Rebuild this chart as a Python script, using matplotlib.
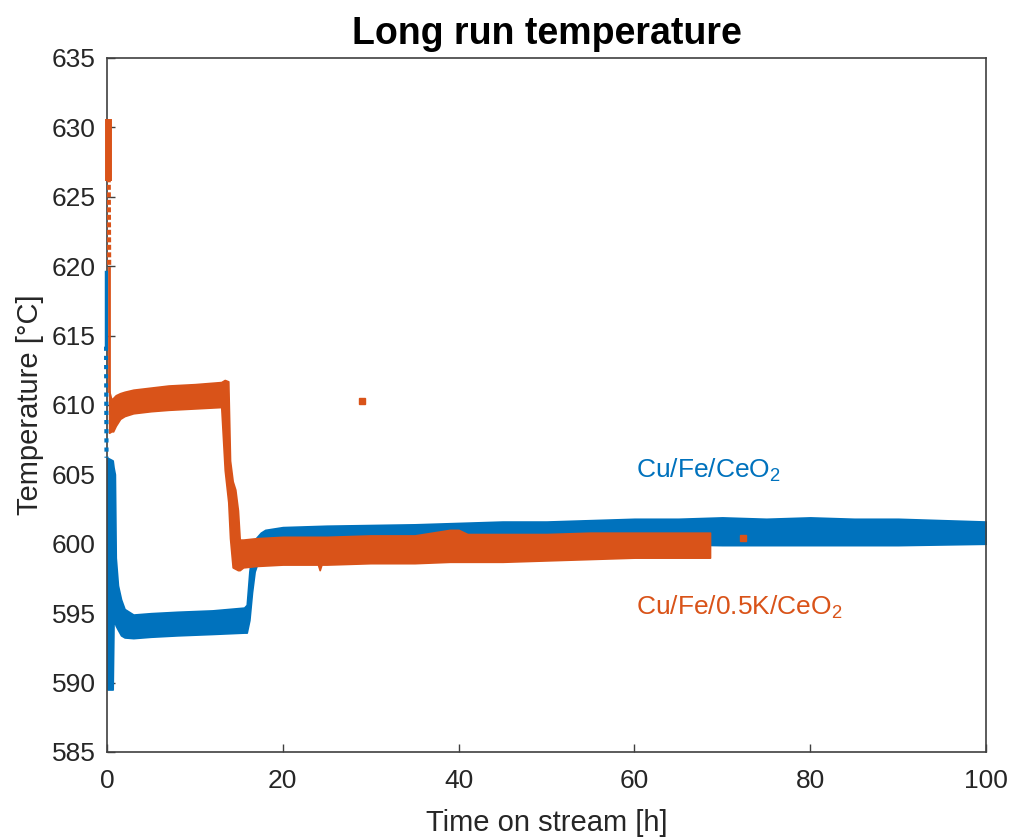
import numpy as np
import matplotlib
matplotlib.use("Agg")
import matplotlib.pyplot as plt

plt.rcParams['font.family'] = ['Liberation Sans', 'DejaVu Sans']
plt.rcParams['mathtext.fontset'] = 'custom'
plt.rcParams['mathtext.rm'] = 'Liberation Sans'
plt.rcParams['mathtext.it'] = 'Liberation Sans:italic'
plt.rcParams['mathtext.bf'] = 'Liberation Sans:bold'

# colours (matlab default order)
blue = '#0072BD'
orange = '#D95319'

# Cu/Fe/CeO2 - noisy band, lower / upper envelope
blue_t = [0.05, 0.65, 0.75, 0.9, 1.0, 1.25, 1.6, 2.0, 3.0, 5.0, 8.0, 12.0, 15.6, 15.9,
          16.2, 16.5, 16.8, 17.5, 18.0, 20, 25, 30, 35, 40, 45, 50, 55, 60, 65, 70,
          75, 80, 85, 90, 95, 100]
blue_hi = [606.2, 606.0, 605.5, 605.0, 599.0, 597.0, 596.0, 595.3, 594.9, 595.0, 595.1,
           595.2, 595.4, 595.6, 598.0, 599.5, 600.3, 600.8, 601.0, 601.2, 601.3, 601.35,
           601.4, 601.5, 601.6, 601.6, 601.7, 601.8, 601.8, 601.9, 601.8, 601.9, 601.8,
           601.8, 601.7, 601.6]
blue_lo = [589.5, 589.5, 594.4, 594.3, 594.1, 593.8, 593.4, 593.25, 593.2, 593.3, 593.4,
           593.5, 593.6, 593.6, 594.5, 596.5, 598.0, 599.3, 599.7, 600.0, 600.0, 600.0,
           600.0, 600.0, 600.0, 600.0, 600.0, 600.0, 599.95, 599.9, 599.9, 599.9, 599.9,
           599.9, 599.95, 600.0]
# start-up spike (solid part, then sparse points)
blue_spike_t = [-0.1, -0.1, -0.05]
blue_spike_T = [619.6, 614.2, 606.2]

# Cu/Fe/0.5K/CeO2
orange_t = [0.25, 0.5, 0.7, 1.0, 1.5, 2.0, 3.0, 5.0, 7.0, 10.0, 13.0, 13.4, 13.8, 14.0,
            14.3, 14.6, 14.9, 15.1, 15.5, 17, 20, 24.0, 24.2, 24.4, 25, 30, 35, 39, 40,
            41, 45, 50, 55, 60, 65, 68.6]
orange_hi = [611.0, 610.4, 610.5, 610.7, 610.85, 610.95, 611.1, 611.25, 611.4, 611.5,
             611.65, 611.8, 611.7, 606.0, 604.5, 603.9, 602.4, 600.3, 600.3, 600.4,
             600.5, 600.5, 600.5, 600.5, 600.5, 600.6, 600.6, 601.0, 601.0, 600.7, 600.7,
             600.7, 600.8, 600.8, 600.8, 600.8]
orange_lo = [608.0, 608.1, 608.1, 608.5, 609.0, 609.2, 609.4, 609.55, 609.65, 609.75,
             609.85, 605.3, 603.0, 600.4, 598.3, 598.2, 598.1, 598.1, 598.3, 598.4,
             598.5, 598.5, 598.1, 598.5, 598.5, 598.6, 598.6, 598.7, 598.7, 598.7, 598.7,
             598.8, 598.9, 599.0, 599.0, 599.0]
orange_spike_t = [0.1, 0.1, 0.2, 0.25, 0.25]
orange_spike_T = [630.4, 626.4, 626.4, 619.9, 611.0]
# single stray readings
orange_out_t = [29.0, 72.4]
orange_out_T = [610.25, 600.4]

xticks = [0, 20, 40, 60, 80, 100]
yticks = [585, 590, 595, 600, 605, 610, 615, 620, 625, 630, 635]

fig = plt.figure(figsize=(10.11, 8.4), dpi=100)
ax = fig.add_axes([0.1058, 0.1048, 0.8695, 0.8262])

# blue series
ax.fill_between(blue_t, blue_lo, blue_hi, color=blue, lw=1.2, edgecolor=blue, zorder=2)
ax.plot(blue_spike_t[:2], blue_spike_T[:2], color=blue, lw=2.5, zorder=4, clip_on=False)
ax.plot(blue_spike_t[1:], blue_spike_T[1:], color=blue, lw=3, ls=(0, (1, 1.2)), zorder=4,
        clip_on=False)

# orange series on top
ax.fill_between(orange_t, orange_lo, orange_hi, color=orange, lw=1.2, edgecolor=orange, zorder=3)
ax.plot(orange_spike_t[:2], orange_spike_T[:2], color=orange, lw=5, zorder=5, clip_on=False)
ax.plot(orange_spike_t[2:4], orange_spike_T[2:4], color=orange, lw=3, ls=(0, (1.2, 0.6)), zorder=5)
ax.plot(orange_spike_t[3:], orange_spike_T[3:], color=orange, lw=2, zorder=5)
ax.plot(orange_out_t, orange_out_T, ls='none', marker='s', ms=4, color=orange, zorder=3)

# series labels
ax.text(60.2, 605.3, 'Cu/Fe/CeO$_2$', color=blue, fontsize=19, va='center', ha='left')
ax.text(60.2, 595.4, 'Cu/Fe/0.5K/CeO$_2$', color=orange, fontsize=19, va='center', ha='left')

ax.set_xlim(0, 100)
ax.set_ylim(585, 635)
ax.set_xticks(xticks)
ax.set_yticks(yticks)
ax.tick_params(direction='in', length=6, width=1, colors='#404040', labelcolor='#262626',
               labelsize=19, top=False, right=False)
ax.tick_params(axis='x', pad=12)
ax.tick_params(axis='y', pad=8)
for s in ax.spines.values():
    s.set_color('#404040')
    s.set_linewidth(1.2)

ax.set_xlabel('Time on stream [h]', fontsize=21, color='#262626', labelpad=12)
ax.set_ylabel('Temperature [°C]', fontsize=21, color='#262626', labelpad=6)
ax.set_title('Long run temperature', fontsize=27, fontweight='bold', color='black', pad=10)

fig.savefig('out.png', dpi=100)
